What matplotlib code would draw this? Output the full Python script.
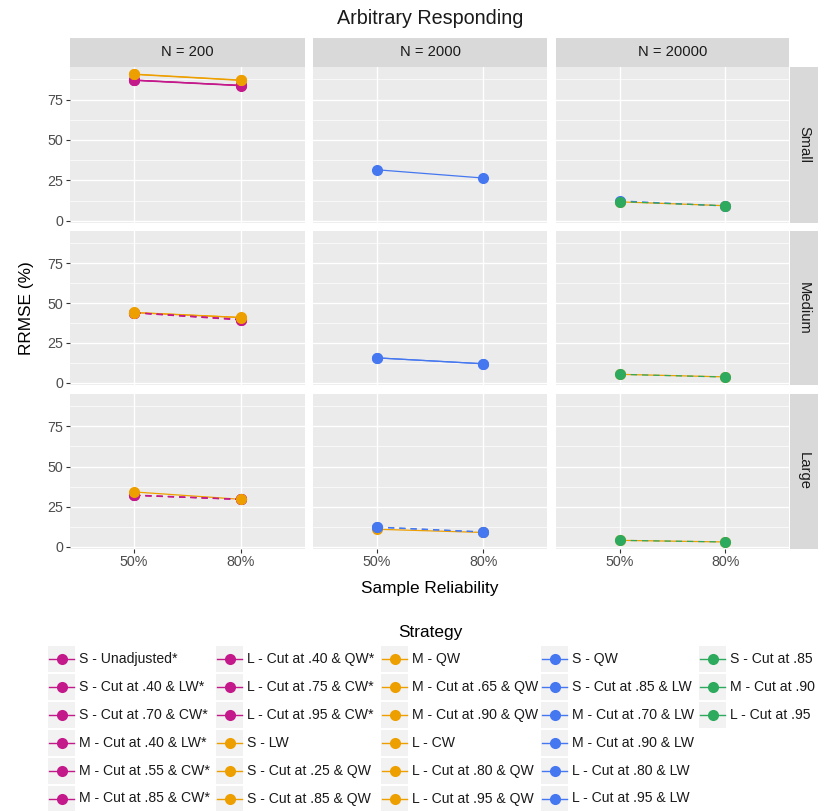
import matplotlib
matplotlib.use("Agg")
import matplotlib.pyplot as plt
from matplotlib.patches import Rectangle
from matplotlib.lines import Line2D

plt.rcParams["font.family"] = ["Liberation Sans", "DejaVu Sans"]

W, H = 827, 811

RELIABILITY = ["50%", "80%"]
SAMPLE_SIZES = ["N = 200", "N = 2000", "N = 20000"]
EFFECT_SIZES = ["Small", "Medium", "Large"]

STRATEGIES = [
    "S - Unadjusted*", "S - Cut at .40 & LW*", "S - Cut at .70 & CW*",
    "M - Cut at .40 & LW*", "M - Cut at .55 & CW*", "M - Cut at .85 & CW*",
    "L - Cut at .40 & QW*", "L - Cut at .75 & CW*", "L - Cut at .95 & CW*",
    "S - LW", "S - Cut at .25 & QW", "S - Cut at .85 & QW",
    "M - QW", "M - Cut at .65 & QW", "M - Cut at .90 & QW",
    "L - CW", "L - Cut at .80 & QW", "L - Cut at .95 & QW",
    "S - QW", "S - Cut at .85 & LW", "M - Cut at .70 & LW",
    "M - Cut at .90 & LW", "L - Cut at .80 & LW", "L - Cut at .95 & LW",
    "S - Cut at .85", "M - Cut at .90", "L - Cut at .95",
]
STRATEGY_GROUP = [0] * 9 + [1] * 9 + [2] * 6 + [3] * 3
GROUP_COLORS = ["#C4198B", "#EE9F00", "#4577F0", "#2EAA5E"]
BASE_GROUP = 1  # orange strategies: others are dashed where they sit on top of one

# one entry per strategy, same order as STRATEGIES
PANEL_ROW = [0, 0, 0, 1, 1, 1, 2, 2, 2,
             0, 0, 0, 1, 1, 1, 2, 2, 2,
             0, 0, 1, 1, 2, 2,
             0, 1, 2]
PANEL_COL = [0, 0, 0, 0, 0, 0, 0, 0, 0,
             0, 0, 2, 0, 0, 2, 0, 1, 2,
             1, 2, 1, 1, 1, 1,
             2, 2, 2]
RRMSE_50 = [87.0, 87.0, 86.8, 44.0, 44.0, 43.8, 32.1, 32.3, 32.0,
            90.5, 90.7, 11.8, 44.0, 44.1, 5.4, 34.2, 11.0, 4.1,
            31.6, 12.4, 15.7, 15.7, 12.4, 12.2,
            12.0, 5.4, 4.1]
RRMSE_80 = [83.7, 83.7, 83.5, 39.6, 39.8, 39.4, 29.6, 29.6, 29.5,
            86.8, 87.0, 9.4, 40.9, 41.0, 3.8, 29.6, 9.0, 3.1,
            26.5, 9.2, 12.0, 12.0, 9.3, 9.3,
            9.3, 3.7, 3.1]

PANEL_X = [(70, 305), (313, 547), (556, 789)]
PANEL_Y = [(67, 223), (231, 385), (394, 549)]

TXT = "#1A1A1A"
TICK_TXT = "#4D4D4D"


def px_axes(fig, x0, y0, x1, y1):
    return fig.add_axes([x0 / W, 1 - y1 / H, (x1 - x0) / W, (y1 - y0) / H])


def overlaps_base(i, idx):
    # True when a non-orange line runs along an orange one in the same panel
    if STRATEGY_GROUP[i] == BASE_GROUP:
        return False
    for j in idx:
        if STRATEGY_GROUP[j] != BASE_GROUP:
            continue
        d = (abs(RRMSE_50[i] - RRMSE_50[j]) + abs(RRMSE_80[i] - RRMSE_80[j])) / 2
        if d < 2:
            return True
    return False


fig = plt.figure(figsize=(W / 100, H / 100), dpi=100)

lo = min(RRMSE_50 + RRMSE_80)
hi = max(RRMSE_50 + RRMSE_80)
pad = (hi - lo) * 0.05
ylim = (lo - pad, hi + pad)

for r in range(3):
    for c in range(3):
        ax = px_axes(fig, PANEL_X[c][0], PANEL_Y[r][0], PANEL_X[c][1], PANEL_Y[r][1])
        ax.set_facecolor("#EBEBEB")
        for sp in ax.spines.values():
            sp.set_visible(False)
        ax.set_xlim(-0.6, 1.6)
        ax.set_ylim(*ylim)
        ax.set_yticks([0, 25, 50, 75])
        ax.set_yticks([12.5, 37.5, 62.5, 87.5], minor=True)
        ax.set_xticks([0, 1])
        ax.set_xticklabels(RELIABILITY)
        ax.grid(True, which="major", color="white", lw=1.0)
        ax.grid(True, which="minor", axis="y", color="white", lw=0.5)
        ax.set_axisbelow(True)
        ax.tick_params(which="minor", length=0)
        ax.tick_params(which="major", length=2.6, width=0.8, color="#333333",
                       labelcolor=TICK_TXT, labelsize=10.3, pad=2)
        if c != 0:
            ax.tick_params(axis="y", length=0, labelleft=False)
        if r != 2:
            ax.tick_params(axis="x", length=0, labelbottom=False)

        idx = [i for i in range(len(STRATEGIES)) if PANEL_ROW[i] == r and PANEL_COL[i] == c]
        for i in idx:
            dashed = overlaps_base(i, idx)
            ax.plot([0, 1], [RRMSE_50[i], RRMSE_80[i]],
                    color=GROUP_COLORS[STRATEGY_GROUP[i]], lw=0.9,
                    ls=(0, (5, 4)) if dashed else "-",
                    zorder=2.2 if dashed else 2)
        for i in idx:
            ax.plot([0, 1], [RRMSE_50[i], RRMSE_80[i]], ls="none", marker="o",
                    ms=8, mew=0, color=GROUP_COLORS[STRATEGY_GROUP[i]], zorder=3)

# facet strips
for c in range(3):
    s = px_axes(fig, PANEL_X[c][0], 38, PANEL_X[c][1], 67)
    s.set_facecolor("#D9D9D9")
    s.set_xticks([]); s.set_yticks([])
    for sp in s.spines.values():
        sp.set_visible(False)
    s.text(0.5, 0.5, SAMPLE_SIZES[c], ha="center", va="center",
           fontsize=10.6, color=TXT, transform=s.transAxes)
for r in range(3):
    s = px_axes(fig, 790, PANEL_Y[r][0], 818, PANEL_Y[r][1])
    s.set_facecolor("#D9D9D9")
    s.set_xticks([]); s.set_yticks([])
    for sp in s.spines.values():
        sp.set_visible(False)
    s.text(0.5, 0.5, EFFECT_SIZES[r], ha="center", va="center", rotation=-90,
           fontsize=10.6, color=TXT, transform=s.transAxes)

fig.text(430 / W, 1 - 18 / H, "Arbitrary Responding", ha="center", va="center",
         fontsize=14.2, color=TXT)
fig.text(27 / W, 1 - 308 / H, "RRMSE (%)", ha="center", va="center",
         rotation=90, fontsize=12.4, color="black")
fig.text(430 / W, 1 - 588 / H, "Sample Reliability", ha="center", va="center",
         fontsize=12.4, color="black")

# legend drawn in pixel space below the panels
lg = fig.add_axes([0, 0, 1, 1], facecolor="none")
lg.set_xlim(0, W)
lg.set_ylim(H, 0)
lg.axis("off")
lg.text(430, 633, "Strategy", ha="center", va="center", fontsize=12.4, color="black")

KEY_X = [48, 216, 381, 541, 699]
for i, name in enumerate(STRATEGIES):
    col, row = divmod(i, 6)
    kx = KEY_X[col]
    cy = 659 + row * 27.9
    colr = GROUP_COLORS[STRATEGY_GROUP[i]]
    lg.add_patch(Rectangle((kx, cy - 13), 27, 26, facecolor="#F2F2F2", edgecolor="none"))
    lg.add_line(Line2D([kx + 1, kx + 26], [cy, cy], color=colr, lw=1.0))
    lg.plot(kx + 13.5, cy, marker="o", ms=8, mew=0, color=colr)
    lg.text(kx + 31, cy, name, ha="left", va="center", fontsize=10.1, color=TXT)

fig.savefig("out.png", dpi=100)
